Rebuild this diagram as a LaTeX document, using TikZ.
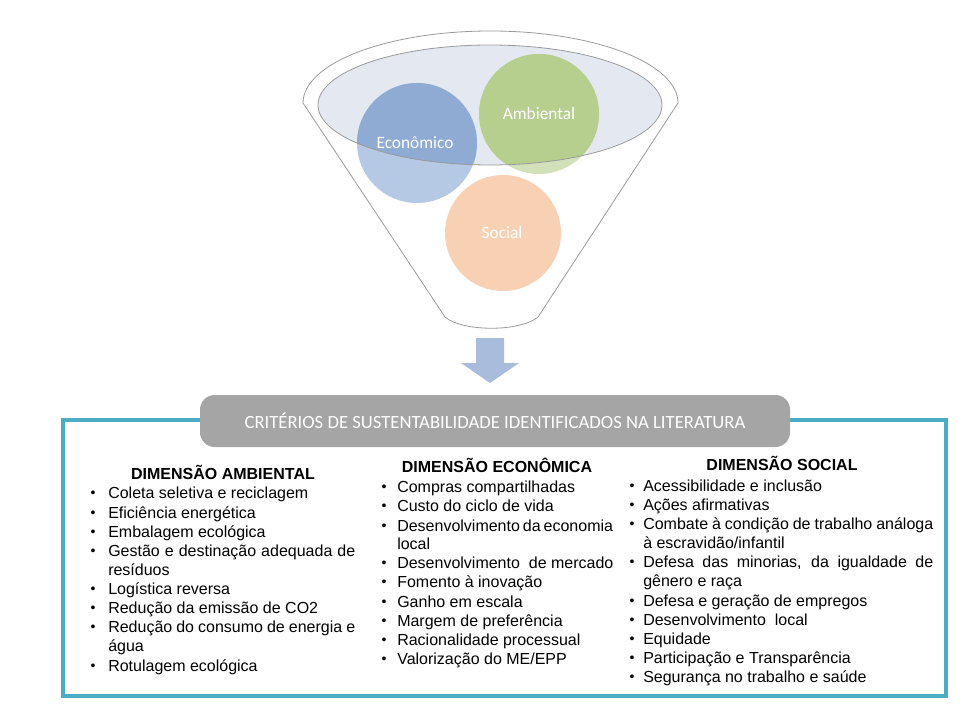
\documentclass[tikz,border=0pt]{standalone}
\usepackage{fontspec}
\setmainfont{Liberation Sans}
\newfontfamily\calibri{Carlito}
\usetikzlibrary{calc}

\definecolor{econDark}{HTML}{8FABD3}
\definecolor{econLight}{HTML}{B6C9E4}
\definecolor{ambDark}{HTML}{B6CF8F}
\definecolor{ambLight}{HTML}{D2E1B9}
\definecolor{socFill}{HTML}{F8D1B4}
\definecolor{rimFill}{HTML}{E3E8F1}
\definecolor{rimLine}{HTML}{9A9A9A}
\definecolor{arrowFill}{HTML}{A9BCDC}
\definecolor{bannerFill}{HTML}{A5A5A5}
\definecolor{frameLine}{HTML}{4BACC6}

\newlength{\pxu}
\setlength{\pxu}{0.75pt}

\tikzset{
  circlabel/.style={font=\calibri\fontsize{13}{15}\selectfont, text=white},
  dimhead/.style={font=\bfseries\fontsize{12}{14}\selectfont, anchor=center},
  itemtext/.style={font=\fontsize{12}{14}\selectfont, anchor=west, inner sep=0pt,
    text height=8.6pt, text depth=2.6pt},
  itembullet/.style={font=\fontsize{10.5}{12}\selectfont, anchor=center, inner sep=0pt,
    text height=7pt, text depth=2pt},
}

\begin{document}
\begin{tikzpicture}[x=\pxu, y=-\pxu]
\useasboundingbox (0,0) rectangle (960,720);

%-- funnel body
\coordinate (FunL) at (303,103);
\coordinate (FunR) at (678,103);
\coordinate (BotR) at (538,317);
\coordinate (BotL) at (445,317);
\draw[rimLine, fill=white, line width=0.6pt]
  (FunL) arc[start angle=180, end angle=360, x radius=187.5, y radius=72]
  -- (BotR) .. controls (520,332) and (463,332) .. (BotL) -- cycle;

%-- rim
\fill[rimFill] (490,105) ellipse[x radius=172, y radius=60];

%-- circles, darker inside the rim
\fill[econLight] (417,143) circle (60);
\fill[ambLight]  (539,114) circle (60);
\fill[socFill]   (503,233) circle (58);
\begin{scope}
  \clip (490,105) ellipse[x radius=172, y radius=60];
  \fill[econDark] (417,143) circle (60);
  \fill[ambDark]  (539,114) circle (60);
\end{scope}
\draw[rimLine, line width=0.6pt] (490,105) ellipse[x radius=172, y radius=60];

\node[circlabel] (econ) at (415,143) {Econômico};
\node[circlabel] (amb)  at (539,114) {Ambiental};
\node[circlabel] (soc)  at (502,233) {Social};

%-- block arrow
\fill[arrowFill] (476,338) -- (504,338) -- (504,363) -- (519,363)
  -- (490,383) -- (461,363) -- (476,363) -- cycle;

%-- frame and banner
\draw[frameLine, line width=2.4pt] (63,420) rectangle (946,696);
\node[fill=bannerFill, rounded corners=11pt, minimum width=590\pxu,
  minimum height=52\pxu, inner sep=0pt, text=white,
  font=\calibri\fontsize{14}{16}\selectfont] (banner) at (495,421)
  {CRITÉRIOS DE SUSTENTABILIDADE IDENTIFICADOS NA LITERATURA};

%-- column headings
\node[dimhead] (headAmb)  at (223,472) {DIMENSÃO AMBIENTAL};
\node[dimhead] (headEcon) at (497,465) {DIMENSÃO ECONÔMICA};
\node[dimhead] (headSoc)  at (782,463) {DIMENSÃO SOCIAL};

%-- ambiental items
\foreach \y/\b/\t in {
  494/1/{Coleta seletiva e reciclagem},
  514/1/{Eficiência energética},
  533/1/{Embalagem ecológica},
  552/1/{\makebox[247\pxu][s]{Gestão e destinação adequada de}},
  571/0/{resíduos},
  590/1/{Logística reversa},
  609/1/{Redução da emissão de CO2},
  628/1/{\makebox[247\pxu][s]{Redução do consumo de energia e}},
  647/0/{água},
  667/1/{Rotulagem ecológica}}{
  \ifnum\b=1 \node[itembullet] at (93,\y) {•}; \fi
  \node[itemtext] at (108,\y) {\t};
}

%-- economica items
\foreach \y/\b/\t in {
  488/1/{Compras compartilhadas},
  507/1/{Custo do ciclo de vida},
  527/1/{\makebox[215\pxu][s]{Desenvolvimento da economia}},
  545/0/{local},
  564/1/{Desenvolvimento\ \ de mercado},
  583/1/{Fomento à inovação},
  603/1/{Ganho em escala},
  622/1/{Margem de preferência},
  641/1/{Racionalidade processual},
  660/1/{Valorização do ME/EPP}}{
  \ifnum\b=1 \node[itembullet] at (384,\y) {•}; \fi
  \node[itemtext] at (397,\y) {\t};
}

%-- social items
\foreach \y/\b/\t in {
  487/1/{Acessibilidade e inclusão},
  506/1/{Ações afirmativas},
  525/1/{\makebox[290\pxu][s]{Combate à condição de trabalho análoga}},
  544/0/{à escravidão/infantil},
  563/1/{\makebox[290\pxu][s]{Defesa das minorias, da igualdade de}},
  582/0/{gênero e raça},
  602/1/{Defesa e geração de empregos},
  621/1/{Desenvolvimento\ \ local},
  640/1/{Equidade},
  659/1/{Participação e Transparência},
  678/1/{Segurança no trabalho e saúde}}{
  \ifnum\b=1 \node[itembullet] at (632,\y) {•}; \fi
  \node[itemtext] at (643,\y) {\t};
}

\end{tikzpicture}
\end{document}
